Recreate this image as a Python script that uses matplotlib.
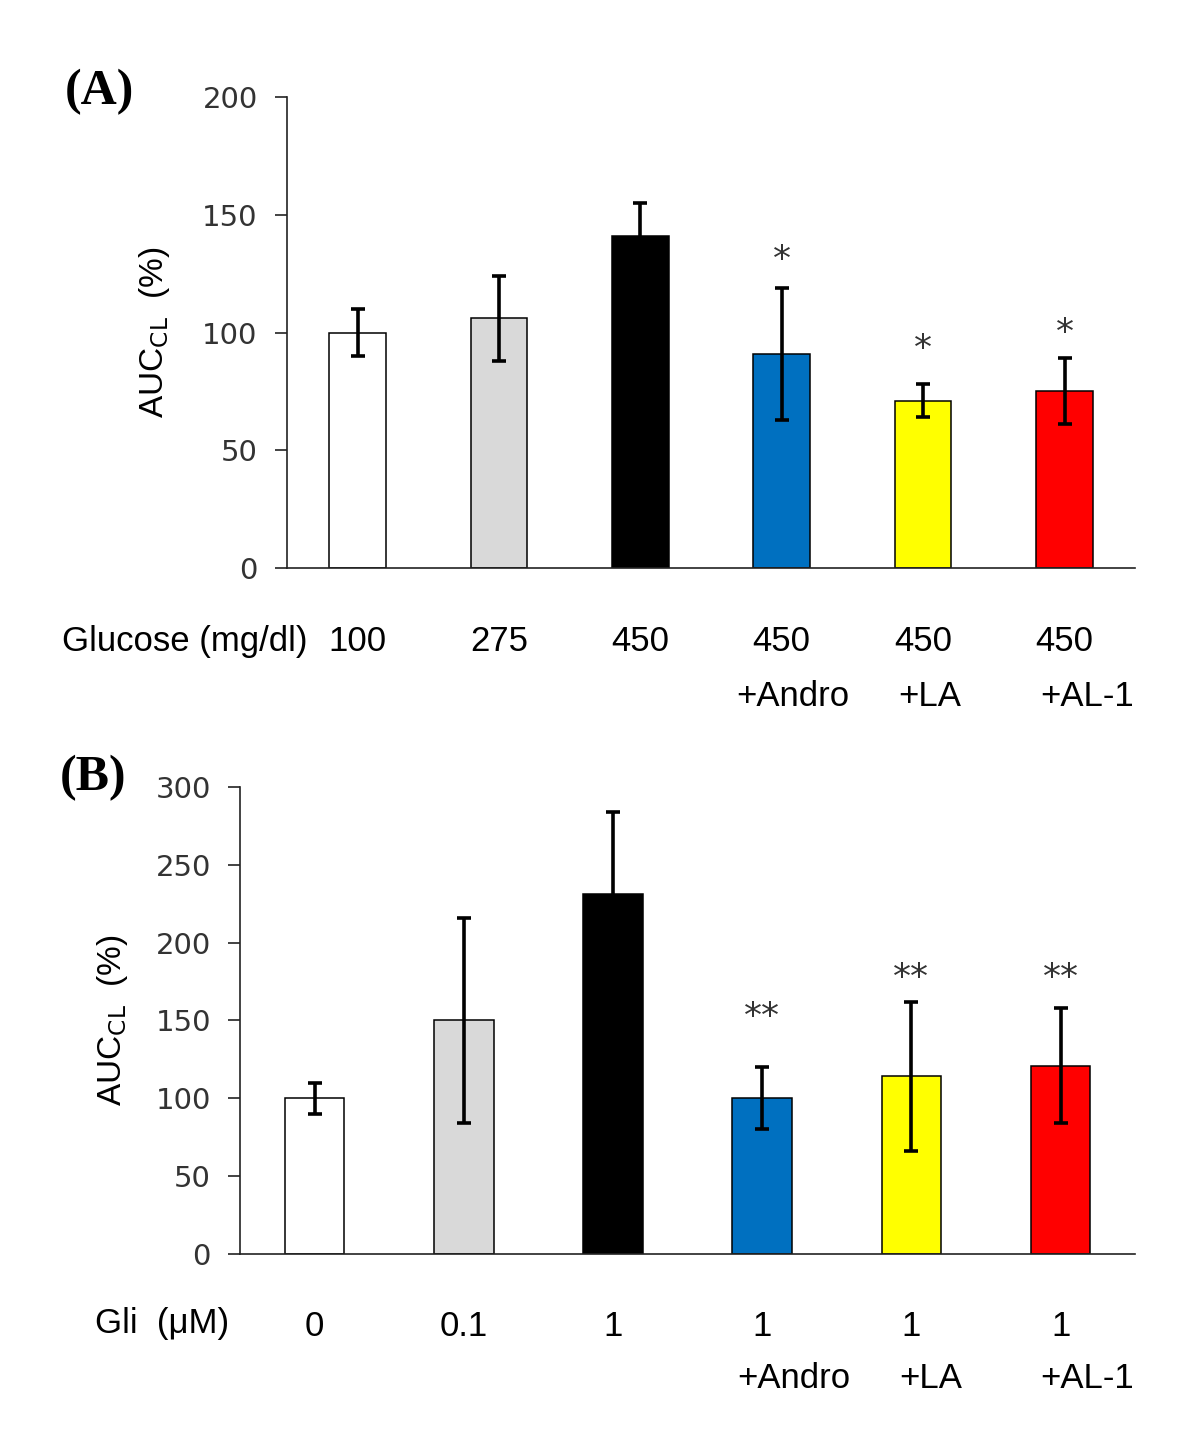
import matplotlib
matplotlib.use("Agg")
import matplotlib.pyplot as plt
import matplotlib.transforms as mtransforms
import numpy as np

# panel A data
glucose = ["100", "275", "450", "450", "450", "450"]
treat = ["", "", "", "+Andro", "+LA", "+AL-1"]
auc_a = [100, 106, 141, 91, 71, 75]
err_a = [10, 18, 14, 28, 7, 14]
star_a = ["", "", "", "*", "*", "*"]
star_a_y = [0, 0, 0, 131, 93, 100]

# panel B data
gli = ["0", "0.1", "1", "1", "1", "1"]
auc_b = [100, 150, 231, 100, 114, 121]
err_b = [10, 66, 53, 20, 48, 37]
star_b = ["", "", "", "**", "**", "**"]
star_b_y = [0, 0, 0, 152, 177, 177]

colors = ["white", "#d9d9d9", "black", "#0070c0", "#ffff00", "#ff0000"]
treat_dx_a = [0, 0, 0, 0.08, 0.05, 0.16]
treat_dx_b = [0, 0, 0, 0.21, 0.13, 0.18]

plt.rcParams['font.family'] = ['Liberation Sans', 'DejaVu Sans']

fig = plt.figure(figsize=(12, 14.29), dpi=100)
ax1 = fig.add_axes([0.239, 0.6025, 0.707, 0.3295])
ax2 = fig.add_axes([0.200, 0.1225, 0.746, 0.3268])


def draw_panel(ax, vals, errs, stars, star_y, ymax, step):
       x = np.arange(len(vals))
       ax.bar(x, vals, width=0.4, color=colors, edgecolor="black", linewidth=1.1, zorder=2)
       ax.errorbar(x, vals, yerr=errs, fmt="none", ecolor="black", elinewidth=2.6,
                   capsize=5, capthick=2.6, zorder=3)
       for i in range(len(x)):
              if stars[i]:
                     ax.text(x[i], star_y[i], stars[i], ha="center", va="center",
                             fontsize=26, color="#333333", family="DejaVu Sans")
       ax.set_xlim(-0.5, len(vals) - 0.5)
       ax.set_ylim(0, ymax)
       ax.set_yticks(np.arange(0, ymax + 1, step))
       ax.set_xticks([])
       ax.spines["top"].set_visible(False)
       ax.spines["right"].set_visible(False)
       for s in ["left", "bottom"]:
              ax.spines[s].set_linewidth(1.2)
              ax.spines[s].set_color("#222222")
       ax.tick_params(axis="y", direction="out", length=9, width=1.2, color="#222222",
                      labelsize=21, labelcolor="#333333", pad=12)
       for lab in ax.get_yticklabels():
              lab.set_family("DejaVu Sans")


draw_panel(ax1, auc_a, err_a, star_a, star_a_y, 200, 50)
draw_panel(ax2, auc_b, err_b, star_b, star_b_y, 300, 50)

ax1.set_ylabel(r"AUC$_{\mathrm{CL}}$  (%)", fontsize=24, labelpad=22)
ax2.set_ylabel(r"AUC$_{\mathrm{CL}}$  (%)", fontsize=24, labelpad=18)

# category labels under the axes
tr1 = mtransforms.blended_transform_factory(ax1.transData, fig.transFigure)
tr2 = mtransforms.blended_transform_factory(ax2.transData, fig.transFigure)
for i in range(len(glucose)):
       ax1.text(i, 1 - 641 / 1429, glucose[i], transform=tr1, ha="center", va="center", fontsize=25)
       ax2.text(i, 1 - 1327 / 1429, gli[i], transform=tr2, ha="center", va="center", fontsize=25)
       if treat[i]:
              ax1.text(i + treat_dx_a[i], 1 - 697 / 1429, treat[i], transform=tr1,
                       ha="center", va="center", fontsize=25)
              ax2.text(i + treat_dx_b[i], 1 - 1378 / 1429, treat[i], transform=tr2,
                       ha="center", va="center", fontsize=25)

fig.text(62 / 1200, 1 - 641 / 1429, "Glucose (mg/dl)", ha="left", va="center", fontsize=25)
fig.text(95 / 1200, 1 - 1323 / 1429, "Gli  (\u03bcM)", ha="left", va="center", fontsize=25)

fig.text(65 / 1200, 1 - 92 / 1429, "(A)", ha="left", va="center", fontsize=36,
         fontweight="bold", family="Liberation Serif")
fig.text(60 / 1200, 1 - 778 / 1429, "(B)", ha="left", va="center", fontsize=36,
         fontweight="bold", family="Liberation Serif")

fig.savefig("out.png", dpi=100, facecolor="white")
